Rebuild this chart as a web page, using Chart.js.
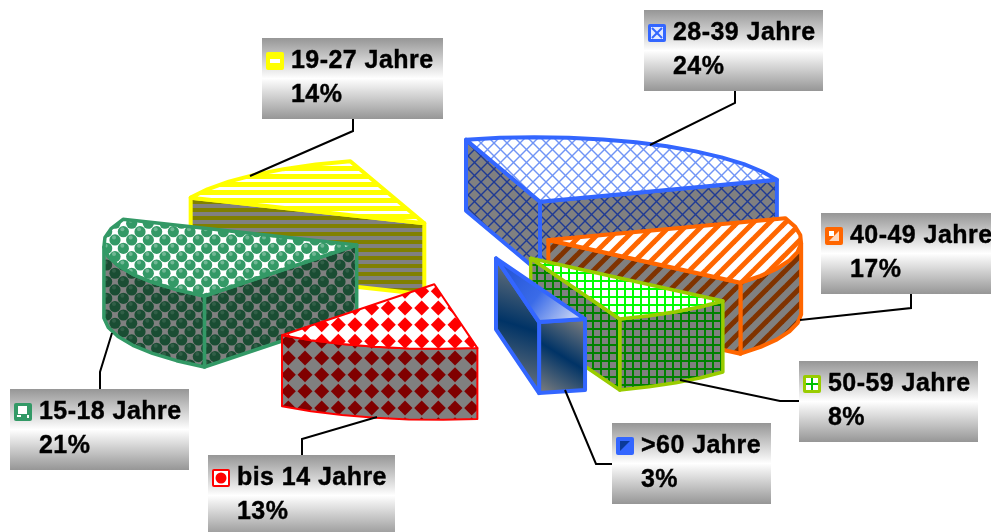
<!DOCTYPE html>
<html>
<head>
<meta charset="utf-8">
<title>Altersgruppen</title>
<script src="https://cdn.jsdelivr.net/npm/chart.js@4"></script>
<style>
  html, body { margin: 0; padding: 0; background: #fff; }
  canvas { display: block; }
</style>
</head>
<body>
<canvas id="chart" width="991" height="532"></canvas>
<script>
// ********** DATA ***********
const categories = ['bis 14 Jahre', '15-18 Jahre', '19-27 Jahre', '28-39 Jahre', '40-49 Jahre', '50-59 Jahre', '>60 Jahre'];
const shares = [13, 21, 14, 24, 17, 8, 3];

// ********** STYLE ***********
const lineColors = ['#ff0000', '#339966', '#ffff00', '#3366ff', '#ff6600', '#99cc00', '#3366ff'];
const lineWidths = [2, 3.5, 4, 4, 4, 3.5, 4];
const patternKinds = ['diamond', 'ball', 'hstripe', 'cross', 'diag', 'grid', 'gradient'];
const topInks = ['#ff0000', '#339966', '#ffff00', '#7094f5', '#ff6600', '#00ff00', null];
const wallInks = ['#800000', '#1a4d33', '#808000', '#1f3a94', '#803300', '#008000', null];
// how far each slice is pulled out of the pie, in px
const explodeX = [-61.2, -138.8, -71.2, 44.5, 52.8, 35.2, 0.5];
const explodeY = [18.3, -21, -42.7, -64.3, -26, -7.7, -7.7];
const drawOrder = [3, 2, 4, 1, 5, 0, 6];

// the tilted view of the pie: unit circle -> screen px
const VIEW = { xc: 242, xs: 74, yc: -18, ys: 62 };
const DEPTH = 71;
const RIM_STEP = 8 * Math.PI / 180;

// callout boxes, same order as categories
const boxX = [208, 10, 262, 644, 821, 799, 612];
const boxY = [455, 389, 38, 10, 213, 361, 423];
const boxW = [187, 179, 181, 179, 170, 179, 159];
const BOX_H = 81;
const leaders = [
  [[302, 455], [302, 439], [377, 417]],
  [[100, 389], [100, 372], [112, 333]],
  [[353, 119], [353, 131], [250, 176]],
  [[735, 91], [735, 103], [650, 145]],
  [[911, 294], [911, 308], [800, 320]],
  [[799, 401], [780, 401], [680, 380]],
  [[612, 464], [596, 464], [565, 390]]
];

// ********** PATTERNS ***********
function tile(w, h, bg, paint) {
  let c = document.createElement('canvas');
  c.width = w;
  c.height = h;
  let x = c.getContext('2d');
  x.fillStyle = bg;
  x.fillRect(0, 0, w, h);
  paint(x);
  return c;
}

function segment(x, a, b, c, d) {
  x.beginPath();
  x.moveTo(a, b);
  x.lineTo(c, d);
  x.stroke();
}

// the hatch repeats every 16.67px, so those tiles hold three rows and columns
function lattice(step, fn) {
  for (let m = -1; m <= 3; m++) {
    for (let n = -1; n <= 3; n++) {
      fn(m * step, n * step);
    }
  }
}

function makeTile(kind, bg, ink, isTop) {
  if (kind === 'hstripe') {
    return tile(8, 8, bg, x => {
      x.fillStyle = ink;
      if (isTop) {
        x.fillRect(0, 0, 8, 3);
        x.fillRect(0, 6, 8, 2);
      } else {
        x.fillRect(0, 0, 8, 4);
      }
    });
  }
  if (kind === 'grid') {
    return tile(8, 8, bg, x => { x.fillStyle = ink; x.fillRect(0, 0, 8, 2); x.fillRect(0, 0, 2, 8); });
  }
  if (kind === 'diag') {
    return tile(16, 16, bg, x => {
      x.strokeStyle = ink;
      x.lineWidth = 5;
      segment(x, -4, 4, 4, -4);
      segment(x, -4, 20, 20, -4);
      segment(x, 12, 20, 20, 12);
    });
  }
  if (kind === 'cross') {
    return tile(13, 13, bg, x => {
      x.strokeStyle = ink;
      x.lineWidth = 1.4;
      segment(x, 0, 0, 13, 13);
      segment(x, 13, 0, 0, 13);
    });
  }
  if (kind === 'diamond') {
    return tile(50, 50, bg, x => {
      x.fillStyle = ink;
      lattice(50 / 3, (a, b) => {
        let cx = a + 5;
        let cy = b + 8;
        x.beginPath();
        x.moveTo(cx - 7.5, cy);
        x.lineTo(cx, cy - 7.5);
        x.lineTo(cx + 7.5, cy);
        x.lineTo(cx, cy + 7.5);
        x.closePath();
        x.fill();
      });
    });
  }
  // 'ball': round dots on a staggered lattice, the gaps show as small squares
  return tile(50, 50, bg, x => {
    let step = 50 / 3;
    lattice(step, (a, b) => {
      [[15, 6.6], [6.67, 15]].forEach(o => {
        let cx = a + o[0];
        let cy = b + o[1];
        x.fillStyle = ink;
        x.beginPath();
        x.arc(cx, cy, 5.6, 0, Math.PI * 2);
        x.fill();
        x.fillStyle = isTop ? 'rgba(255,255,255,0.3)' : 'rgba(255,255,255,0.1)';
        x.beginPath();
        x.arc(cx - 1, cy - 2.5, 2, 0, Math.PI * 2);
        x.fill();
      });
    });
  });
}

function bounds(pts) {
  let xs = pts.map(p => p.x);
  let ys = pts.map(p => p.y);
  return { x0: Math.min(...xs), x1: Math.max(...xs), y0: Math.min(...ys), y1: Math.max(...ys) };
}

function wallFill(ctx, i, pts) {
  if (patternKinds[i] === 'gradient') {
    let b = bounds(pts);
    let g = ctx.createLinearGradient(b.x0, b.y1, b.x1, b.y0);
    g.addColorStop(0, '#808080');
    g.addColorStop(0.5, '#003366');
    g.addColorStop(1, '#808080');
    return g;
  }
  return ctx.createPattern(makeTile(patternKinds[i], '#808080', wallInks[i], false), 'repeat');
}

function topFill(ctx, i, pts) {
  if (patternKinds[i] === 'gradient') {
    let b = bounds(pts);
    let g = ctx.createLinearGradient(b.x0, b.y0, b.x1 - 10, b.y1);
    g.addColorStop(0, '#1f4fd0');
    g.addColorStop(0.55, '#3a6be8');
    g.addColorStop(1, '#ced9f5');
    return g;
  }
  return ctx.createPattern(makeTile(patternKinds[i], '#ffffff', topInks[i], true), 'repeat');
}

// ********** GEOMETRY ***********
// top face of a slice, from the arc the doughnut controller worked out
function topFace(arc, i) {
  let p = arc.getProps(['x', 'y', 'startAngle', 'endAngle']);
  let tip = { x: p.x + explodeX[i], y: p.y + explodeY[i] };
  let pts = [tip];
  let n = Math.max(1, Math.round((p.endAngle - p.startAngle) / RIM_STEP));
  for (let k = 0; k <= n; k++) {
    let a = p.startAngle + (p.endAngle - p.startAngle) * k / n;
    pts.push({
      x: tip.x + VIEW.xc * Math.cos(a) + VIEW.xs * Math.sin(a),
      y: tip.y + VIEW.yc * Math.cos(a) + VIEW.ys * Math.sin(a)
    });
  }
  return pts;
}

// the walls that face us are the edges running leftwards on a clockwise outline
function wallRuns(pts) {
  let runs = [];
  let cur = null;
  for (let i = 0; i < pts.length; i++) {
    let a = pts[i];
    let b = pts[(i + 1) % pts.length];
    let group = i === 0 ? 0 : (i === pts.length - 1 ? 2 : 1);
    if (b.x < a.x) {
      if (cur && cur.group === group) {
        cur.pts.push(b);
      } else {
        cur = { group: group, pts: [a, b] };
        runs.push(cur);
      }
    } else {
      cur = null;
    }
  }
  return runs;
}

function tracePoly(ctx, pts) {
  ctx.beginPath();
  pts.forEach((p, k) => (k ? ctx.lineTo(p.x, p.y) : ctx.moveTo(p.x, p.y)));
  ctx.closePath();
}

function drawSlice(ctx, arc, i) {
  let face = topFace(arc, i);
  ctx.lineJoin = 'round';
  ctx.strokeStyle = lineColors[i];
  ctx.lineWidth = lineWidths[i];
  wallRuns(face).forEach(run => {
    let lower = run.pts.slice().reverse().map(p => ({ x: p.x, y: p.y + DEPTH }));
    let poly = run.pts.concat(lower);
    tracePoly(ctx, poly);
    ctx.fillStyle = wallFill(ctx, i, poly);
    ctx.fill();
    ctx.stroke();
  });
  tracePoly(ctx, face);
  ctx.fillStyle = topFill(ctx, i, face);
  ctx.fill();
  ctx.stroke();
}

// ********** CALLOUTS ***********
// small white mark inside the coloured key square
function drawKeyMark(ctx, i, x, y) {
  let kind = patternKinds[i];
  let ink = lineColors[i];
  ctx.fillStyle = '#fff';
  if (kind === 'hstripe') {
    ctx.fillRect(x + 4, y + 7, 10, 4);
  } else if (kind === 'diag') {
    ctx.beginPath();
    ctx.moveTo(x + 4, y + 14);
    ctx.lineTo(x + 14, y + 4);
    ctx.lineTo(x + 14, y + 14);
    ctx.closePath();
    ctx.fillStyle = '#ffd9bf';
    ctx.fill();
    ctx.fillStyle = '#fff';
    ctx.fillRect(x + 4, y + 4, 5, 5);
  } else if (kind === 'cross') {
    ctx.fillStyle = '#e2e9ff';
    ctx.fillRect(x + 3, y + 3, 12, 12);
    ctx.strokeStyle = ink;
    ctx.lineWidth = 2;
    segment(ctx, x + 4, y + 4, x + 14, y + 14);
    segment(ctx, x + 14, y + 4, x + 4, y + 14);
  } else if (kind === 'grid') {
    ctx.fillRect(x + 3, y + 3, 12, 12);
    ctx.fillStyle = '#00c000';
    ctx.fillRect(x + 8, y + 3, 2, 12);
    ctx.fillRect(x + 3, y + 8, 12, 2);
  } else if (kind === 'diamond') {
    ctx.fillRect(x + 2, y + 2, 14, 14);
    ctx.fillStyle = ink;
    ctx.beginPath();
    ctx.arc(x + 9, y + 9, 5.5, 0, Math.PI * 2);
    ctx.fill();
  } else if (kind === 'ball') {
    ctx.fillRect(x + 4, y + 3, 9, 8);
    ctx.fillRect(x + 3, y + 12, 4, 2);
    ctx.fillRect(x + 13, y + 12, 2, 3);
  } else {
    ctx.fillStyle = '#0b3a99';
    ctx.beginPath();
    ctx.moveTo(x + 4, y + 4);
    ctx.lineTo(x + 14, y + 4);
    ctx.lineTo(x + 4, y + 14);
    ctx.closePath();
    ctx.fill();
  }
}

function drawCallout(ctx, i) {
  let x = boxX[i];
  let y = boxY[i];
  let g = ctx.createLinearGradient(0, y, 0, y + BOX_H);
  g.addColorStop(0, '#969696');
  g.addColorStop(0.5, '#ffffff');
  g.addColorStop(1, '#969696');
  ctx.fillStyle = g;
  ctx.fillRect(x, y, boxW[i], BOX_H);

  ctx.fillStyle = lineColors[i];
  ctx.beginPath();
  ctx.roundRect(x + 4, y + 14, 18, 18, 2);
  ctx.fill();
  drawKeyMark(ctx, i, x + 4, y + 14);

  ctx.fillStyle = '#000';
  ctx.strokeStyle = '#000';
  ctx.lineWidth = 0.4;
  ctx.font = 'bold 25px "Liberation Sans", Arial, sans-serif';
  ctx.letterSpacing = '0.45px';
  ctx.textAlign = 'left';
  ctx.textBaseline = 'alphabetic';
  ctx.fillText(categories[i], x + 29, y + 30);
  ctx.strokeText(categories[i], x + 29, y + 30);
  ctx.fillText(shares[i] + '%', x + 29, y + 64);
  ctx.strokeText(shares[i] + '%', x + 29, y + 64);
  ctx.letterSpacing = '0px';
}

function drawLeader(ctx, i) {
  ctx.strokeStyle = '#000';
  ctx.lineWidth = 2;
  ctx.lineJoin = 'miter';
  ctx.beginPath();
  leaders[i].forEach((p, k) => (k ? ctx.lineTo(p[0], p[1]) : ctx.moveTo(p[0], p[1])));
  ctx.stroke();
}

// ********** PLUGIN ***********
const tiltedPie = {
  id: 'tiltedPie',
  afterDatasetsDraw(chart) {
    let ctx = chart.ctx;
    let arcs = chart.getDatasetMeta(0).data;
    ctx.save();
    drawOrder.forEach(i => drawSlice(ctx, arcs[i], i));
    categories.forEach((c, i) => drawLeader(ctx, i));
    categories.forEach((c, i) => drawCallout(ctx, i));
    ctx.restore();
  }
};

// ********** CHART ***********
new Chart(document.getElementById('chart'), {
  type: 'pie',
  data: {
    labels: categories,
    datasets: [{
      data: shares,
      backgroundColor: 'rgba(0,0,0,0)',
      borderWidth: 0
    }]
  },
  options: {
    responsive: false,
    animation: false,
    rotation: 187.2,
    plugins: {
      legend: { display: false },
      tooltip: { enabled: false }
    }
  },
  plugins: [tiltedPie]
});
</script>
</body>
</html>
